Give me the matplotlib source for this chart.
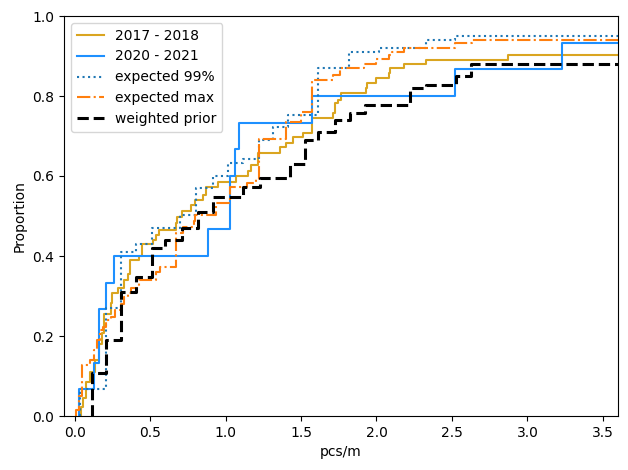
import numpy as np
import matplotlib
matplotlib.use("Agg")
import matplotlib.pyplot as plt

# step positions (pcs/m) and proportion after each step
x_1718 = [0.04, 0.055, 0.073, 0.104, 0.137, 0.159, 0.181, 0.197, 0.243, 0.25, 0.29, 0.33,
          0.355, 0.37, 0.43, 0.449, 0.52, 0.537, 0.56, 0.67, 0.68, 0.71, 0.774, 0.796,
          0.851, 0.873, 0.95, 1.068, 1.15, 1.17, 1.216, 1.36, 1.4, 1.448, 1.51, 1.576,
          1.71, 1.726, 1.746, 1.762, 1.93, 1.94, 2.0, 2.08, 2.09, 2.18, 2.33, 2.87]
y_1718 = [0.022, 0.045, 0.086, 0.11, 0.14, 0.18, 0.207, 0.255, 0.282, 0.307, 0.32, 0.34,
          0.355, 0.39, 0.4, 0.43, 0.44, 0.4525, 0.465, 0.482, 0.498, 0.513, 0.5275, 0.54,
          0.5525, 0.572, 0.586, 0.6, 0.613, 0.6275, 0.658, 0.673, 0.683, 0.697, 0.708, 0.744,
          0.757, 0.782, 0.79, 0.807, 0.819, 0.832, 0.844, 0.857, 0.869, 0.88, 0.89, 0.903]

x_2021 = [0.03, 0.13, 0.165, 0.205, 0.26, 0.885, 1.03, 1.06, 1.09, 1.575, 2.52, 3.23]
y_2021 = [0.067, 0.133, 0.267, 0.333, 0.4, 0.467, 0.6, 0.667, 0.733, 0.8, 0.867, 0.933]

x_e99 = [0.033, 0.21, 0.31, 0.41, 0.51, 0.70, 0.807, 0.917, 1.017, 1.116, 1.222, 1.315,
         1.414, 1.61, 1.82, 2.02, 2.325, 2.52]
y_e99 = [0.067, 0.27, 0.41, 0.43, 0.471, 0.5025, 0.569, 0.6, 0.632, 0.642, 0.69, 0.723,
         0.7525, 0.869, 0.91, 0.92, 0.94, 0.951]

x_emax = [0.01, 0.03, 0.05, 0.1, 0.13, 0.15, 0.17, 0.188, 0.21, 0.243, 0.265, 0.31, 0.33,
          0.354, 0.376, 0.43, 0.54, 0.564, 0.67, 0.72, 0.79, 0.8, 0.935, 1.028, 1.14, 1.2,
          1.22, 1.4, 1.5, 1.57, 1.713, 1.757, 1.92, 2.0, 2.08, 2.1, 2.18, 2.52, 2.63]
y_emax = [0.015, 0.05, 0.1275, 0.14, 0.165, 0.19, 0.215, 0.223, 0.24, 0.248, 0.265, 0.28, 0.298,
          0.307, 0.319, 0.34, 0.36, 0.372, 0.457, 0.473, 0.4875, 0.5025, 0.532, 0.572, 0.582, 0.592,
          0.692, 0.736, 0.761, 0.84, 0.8525, 0.869, 0.88, 0.892, 0.9025, 0.911, 0.92, 0.932, 0.94]

x_prior = [0.115, 0.21, 0.31, 0.409, 0.515, 0.6, 0.714, 0.818, 0.917, 1.116, 1.227, 1.426,
           1.525, 1.614, 1.724, 1.824, 1.923, 2.22, 2.33, 2.53, 2.626]
y_prior = [0.107, 0.19, 0.31, 0.348, 0.419, 0.44, 0.469, 0.51, 0.548, 0.573, 0.594, 0.63,
           0.69, 0.711, 0.74, 0.758, 0.7775, 0.819, 0.8275, 0.85, 0.879]

x_max = 3.6


def steps(xs, ys):
    # start at zero, run flat to the right edge
    xx = np.concatenate([[xs[0]], xs, [x_max + 0.5]])
    yy = np.concatenate([[0], ys, [ys[-1]]])
    return xx, yy


fig, ax = plt.subplots(figsize=(6.28, 4.7))
fig.subplots_adjust(left=64/628, right=618/628, top=1-16/470, bottom=1-416/470)

ax.step(*steps(x_1718, y_1718), where='post', color='goldenrod', lw=1.5, label='2017 - 2018')
ax.step(*steps(x_2021, y_2021), where='post', color='dodgerblue', lw=1.5, label='2020 - 2021')
ax.step(*steps(x_e99, y_e99), where='post', color='tab:blue', ls=':', lw=1.5, label='expected 99%')
ax.step(*steps(x_emax, y_emax), where='post', color='tab:orange', ls='-.', lw=1.5, label='expected max')
ax.step(*steps(x_prior, y_prior), where='post', color='black', ls='--', lw=2.2, label='weighted prior')

ax.set_xlim(-0.07, x_max)
ax.set_ylim(0, 1)
ax.set_xticks(np.arange(0, 3.6, 0.5))
ax.set_xlabel('pcs/m')
ax.set_ylabel('Proportion')
ax.legend(loc='upper left')

plt.savefig('out.png')
